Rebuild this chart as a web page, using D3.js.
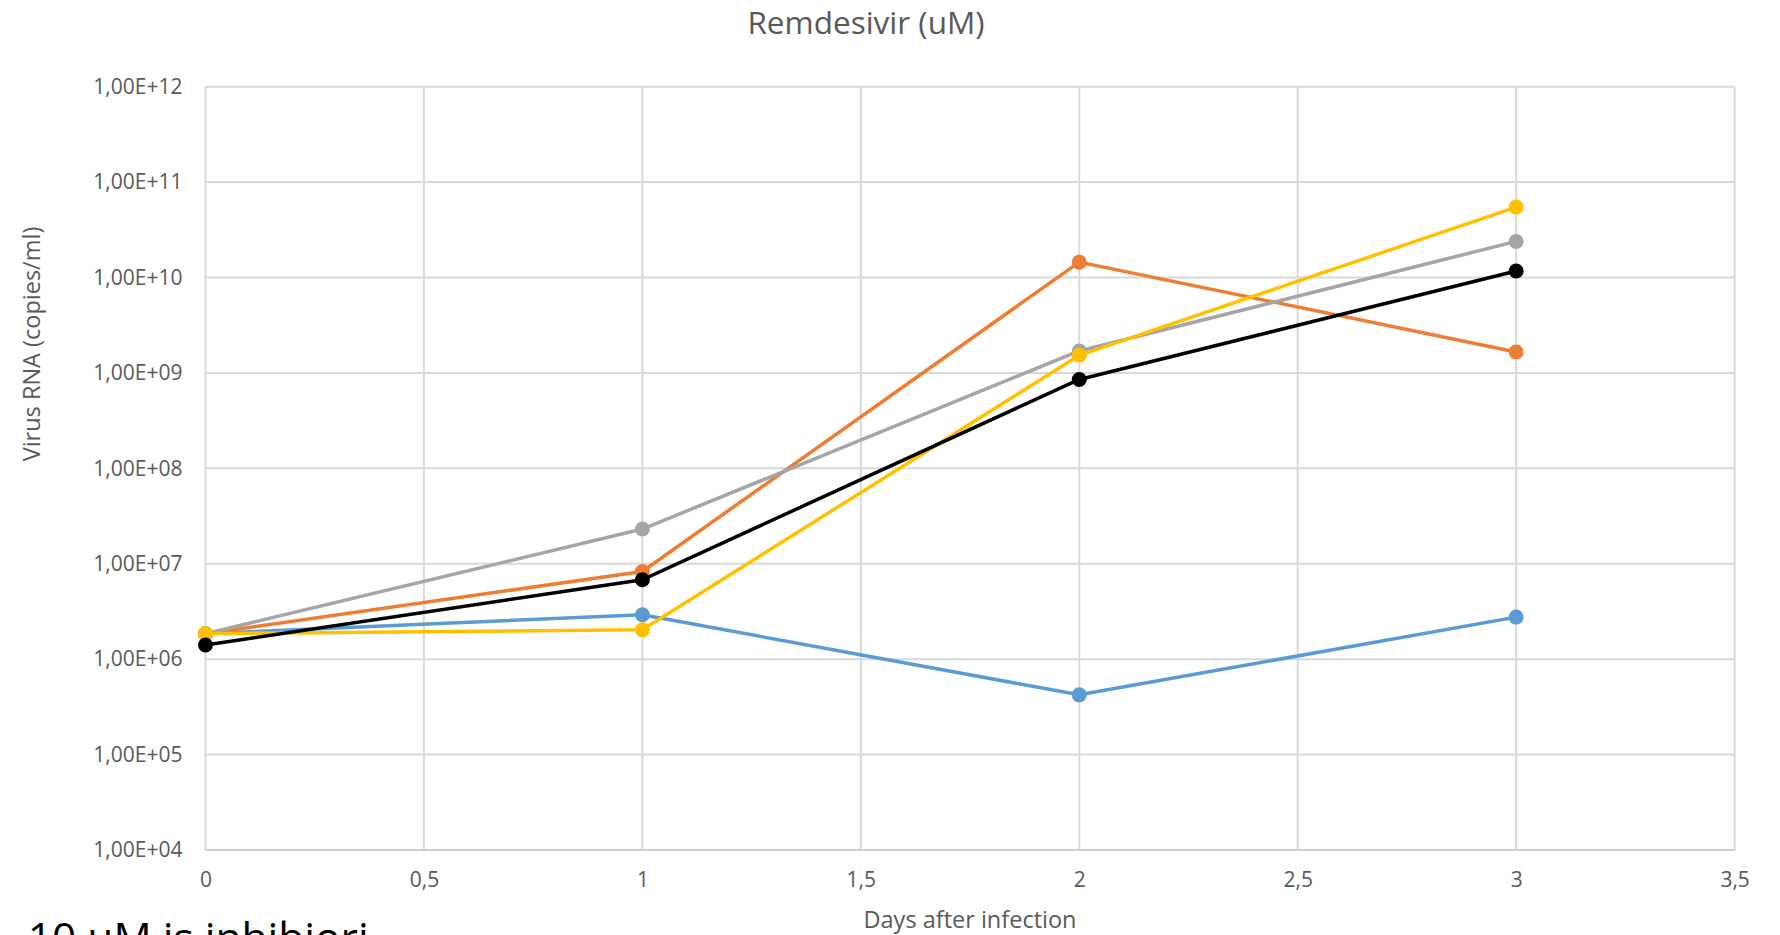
<!DOCTYPE html>
<html>
<head>
<meta charset="utf-8">
<script src="https://cdn.jsdelivr.net/npm/d3@7"></script>
<style>
  html, body { margin: 0; padding: 0; background: #fff; overflow: hidden; }
  svg { display: block; font-family: "Open Sans", sans-serif; }
</style>
</head>
<body>
<svg id="chart" width="1780" height="935"></svg>
<script>
// ---- data ----
const days = [0, 1, 2, 3];
const xTicks = [0, 0.5, 1, 1.5, 2, 2.5, 3, 3.5];
const yTicks = [1e4, 1e5, 1e6, 1e7, 1e8, 1e9, 1e10, 1e11, 1e12];
const seriesNames = ["Series1", "Series2", "Series3", "Series4", "Series5"];
const seriesColors = ["#5B9BD5", "#ED7D31", "#A5A5A5", "#FFC000", "#000000"];
const blueValues   = [1.85e6, 2.92e6, 4.23e5, 2.76e6];
const orangeValues = [1.85e6, 8.3e6, 1.45e10, 1.66e9];
const greyValues   = [1.85e6, 2.31e7, 1.7e9, 2.39e10];
const yellowValues = [1.85e6, 2.03e6, 1.53e9, 5.47e10];
const blackValues  = [1.41e6, 6.8e6, 8.55e8, 1.17e10];
const titleText = "Remdesivir (uM)";
const xTitle = "Days after infection";
const yTitle = "Virus RNA (copies/ml)";
const noteText = "- 10 uM is inhibiori";

const allSeries = [blueValues, orangeValues, greyValues, yellowValues, blackValues]
  .map((vals, i) => ({ name: seriesNames[i], color: seriesColors[i],
    points: vals.map((v, j) => ({ x: days[j], y: v })) }));

// ---- layout ----
const svg = d3.select("#chart");
const L = 205.5, R = 1734.6, T = 86.7, B = 850;
const x = d3.scaleLinear().domain([0, 3.5]).range([L, R]);
const y = d3.scaleLog().domain([1e4, 1e12]).range([B, T]);

const fmtX = d => String(d).replace(".", ",");
const fmtY = d => "1,00E+" + String(Math.round(Math.log10(d))).padStart(2, "0");

// gridlines
const grid = svg.append("g");
grid.selectAll("line.h").data(yTicks).join("line")
  .attr("x1", L).attr("x2", R)
  .attr("y1", d => y(d)).attr("y2", d => y(d))
  .attr("stroke", "#d9d9d9").attr("stroke-width", 2);
grid.selectAll("line.v").data(xTicks).join("line")
  .attr("y1", T).attr("y2", B)
  .attr("x1", d => x(d)).attr("x2", d => x(d))
  .attr("stroke", "#d9d9d9").attr("stroke-width", 2);

// axes (labels only)
const yAxis = d3.axisLeft(y).tickValues(yTicks).tickFormat(fmtY).tickSize(0).tickPadding(23);
const gy = svg.append("g").attr("transform", `translate(${L},0)`).call(yAxis);
gy.select(".domain").remove();
gy.selectAll("text").attr("fill", "#595959").style("font-size", "21px")
  .style("font-family", "'Open Sans', sans-serif");

const xAxis = d3.axisBottom(x).tickValues(xTicks).tickFormat(fmtX).tickSize(0).tickPadding(22);
const gx = svg.append("g").attr("transform", `translate(0,${B})`).call(xAxis);
gx.select(".domain").remove();
gx.selectAll("text").attr("fill", "#595959").style("font-size", "21px")
  .style("font-family", "'Open Sans', sans-serif");

// bottom axis line a bit stronger
svg.append("line").attr("x1", L).attr("x2", R).attr("y1", B).attr("y2", B)
  .attr("stroke", "#cfcfcf").attr("stroke-width", 2);

// series
const line = d3.line().x(d => x(d.x)).y(d => y(d.y));
const gs = svg.append("g");
allSeries.forEach(s => {
  gs.append("path").datum(s.points).attr("d", line)
    .attr("fill", "none").attr("stroke", s.color).attr("stroke-width", 3.5)
    .attr("stroke-linejoin", "round");
  gs.selectAll(null).data(s.points).join("circle")
    .attr("cx", d => x(d.x)).attr("cy", d => y(d.y)).attr("r", 7.5)
    .attr("fill", s.color);
});

// titles
svg.append("text").attr("x", 866).attr("y", 34).attr("text-anchor", "middle")
  .attr("fill", "#595959").style("font-size", "31.5px").text(titleText);
svg.append("text").attr("x", 970).attr("y", 928).attr("text-anchor", "middle")
  .attr("fill", "#595959").style("font-size", "23.5px").text(xTitle);
svg.append("text").attr("transform", "translate(40,344) rotate(-90)").attr("text-anchor", "middle")
  .attr("fill", "#595959").style("font-size", "23.5px").text(yTitle);

// cut-off note at the bottom (cut off in the reference too)
svg.append("text").attr("x", 3).attr("y", 953).attr("fill", "#000")
  .style("font-size", "42.5px").text(noteText);
</script>
</body>
</html>
